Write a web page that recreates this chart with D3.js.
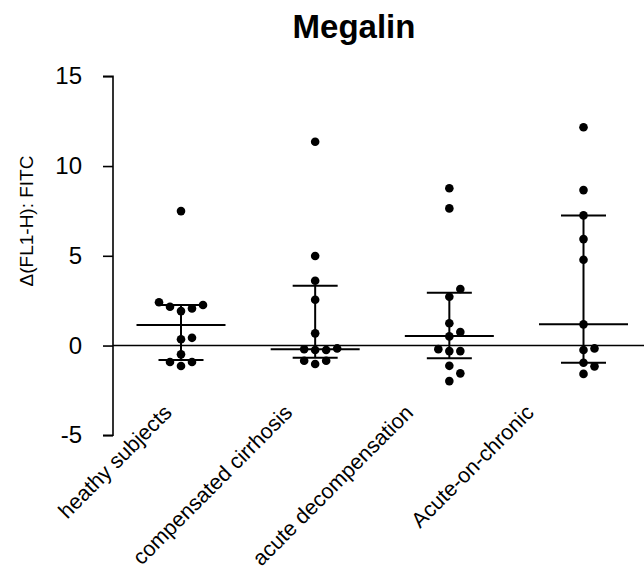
<html>
  <head>
    <meta charset="utf-8">
    <script src="https://cdn.jsdelivr.net/npm/d3@7"></script>
    <style>
      body { margin: 0; background: #fff; }
      text { font-family: "Liberation Sans", Arial, sans-serif; }
    </style>
  </head>
  <body>
    <div id="chart"></div>
    <script>
      // groups and the values
      const groups = [
        "heathy subjects",
        "compensated cirrhosis",
        "acute decompensation",
        "Acute-on-chronic",
      ];
      const healthy = [7.49, 2.41, 2.26, 2.16, 2.07, 1.92, 0.43, 0.35, -0.49, -0.92, -0.92, -1.14];
      const compensated = [11.35, 4.99, 3.61, 2.55, 0.68, -0.16, -0.21, -0.25, -0.25, -0.85, -0.85, -1.03];
      const decompensation = [8.76, 7.64, 3.15, 2.72, 1.24, 0.75, 0.51, -0.2, -0.31, -0.31, -1.13, -1.55, -1.98];
      const acuteOnChronic = [12.16, 8.66, 7.25, 5.93, 4.78, 1.18, -0.16, -0.25, -0.96, -1.16, -1.58];

      // median and interquartile range drawn by the original software
      const medians = [1.14, -0.21, 0.53, 1.18];
      const q1 = [-0.81, -0.68, -0.71, -0.96];
      const q3 = [2.26, 3.33, 2.94, 7.25];

      const yTicks = [-5, 0, 5, 10, 15];

      const series = [healthy, compensated, decompensation, acuteOnChronic];

      const width = 644, height = 570;

      const svg = d3
        .select("#chart")
        .append("svg")
        .attr("width", width)
        .attr("height", height);

      let x = d3.scalePoint().domain(groups).range([181, 583.5]);
      // the rotated labels sit on a slightly narrower spread than the columns
      let xLabel = d3.scalePoint().domain(groups).range([173, 535]);

      let y = d3.scaleLinear().domain([-5, 15]).range([435.3, 76.3]);

      const axisX = 113;

      // title
      svg.append("text")
        .attr("x", 354)
        .attr("y", 38)
        .attr("text-anchor", "middle")
        .style("font-size", "33px")
        .style("font-weight", "bold")
        .text("Megalin");

      // y axis
      let yAxis = d3.axisLeft(y)
        .tickValues(yTicks)
        .tickFormat((d) => String(d))
        .tickSize(10)
        .tickPadding(21);
      let yAxisGroup = svg.append("g")
        .attr("transform", `translate(${axisX},0)`)
        .call(yAxis);
      yAxisGroup.select(".domain").attr("d", `M-10,${y(15)}H0V${y(-5)}H-10`).attr("stroke-width", 1.6);
      yAxisGroup.selectAll(".tick line").attr("stroke-width", 1.6);
      yAxisGroup.selectAll(".tick text")
        .style("font-size", "24px")
        .style("font-family", "'Liberation Sans', Arial, sans-serif")
        .attr("fill", "#000");

      svg.append("text")
        .attr("transform", `translate(33,221) rotate(-90)`)
        .attr("text-anchor", "middle")
        .style("font-size", "19px")
        .text("\u0394(FL1-H): FITC");

      // zero line
      svg.append("line")
        .attr("x1", axisX)
        .attr("x2", width)
        .attr("y1", y(0))
        .attr("y2", y(0))
        .attr("stroke", "#000")
        .attr("stroke-width", 1.6);

      // category labels
      svg.selectAll(".xlab")
        .data(groups)
        .join("text")
        .attr("class", "xlab")
        .attr("transform", (d) => `translate(${xLabel(d)},414) rotate(-45)`)
        .attr("text-anchor", "end")
        .style("font-size", "21.5px")
        .text((d) => d);

      // simple beeswarm: place points from the bottom, nudging sideways on overlap
      const r = 4.3, step = 11, minDist = 10;
      function swarm(values) {
        let placed = [];
        let sorted = values.slice().sort((a, b) => a - b);
        sorted.forEach((v) => {
          let py = y(v);
          let slots = [0, 1, -1, 2, -2, 3, -3];
          for (let s of slots) {
            let px = s * step;
            let hit = placed.some((p) => Math.hypot(p.dx - px, p.py - py) < minDist);
            if (!hit) {
              placed.push({ v: v, dx: px, py: py });
              break;
            }
          }
        });
        return placed;
      }

      groups.forEach((g, i) => {
        let cx = x(g);
        let grp = svg.append("g");

        // IQR whisker
        grp.append("line")
          .attr("x1", cx).attr("x2", cx)
          .attr("y1", y(q1[i])).attr("y2", y(q3[i]))
          .attr("stroke", "#000").attr("stroke-width", 2);
        // median
        grp.append("line")
          .attr("x1", cx - 44.5).attr("x2", cx + 44.5)
          .attr("y1", y(medians[i])).attr("y2", y(medians[i]))
          .attr("stroke", "#000").attr("stroke-width", 2);
        // quartile caps
        [q1[i], q3[i]].forEach((q) => {
          grp.append("line")
            .attr("x1", cx - 22.5).attr("x2", cx + 22.5)
            .attr("y1", y(q)).attr("y2", y(q))
            .attr("stroke", "#000").attr("stroke-width", 2);
        });

        grp.selectAll("circle")
          .data(swarm(series[i]))
          .join("circle")
          .attr("cx", (d) => cx + d.dx)
          .attr("cy", (d) => y(d.v))
          .attr("r", r)
          .attr("fill", "#000");
      });
    </script>
  </body>
</html>
